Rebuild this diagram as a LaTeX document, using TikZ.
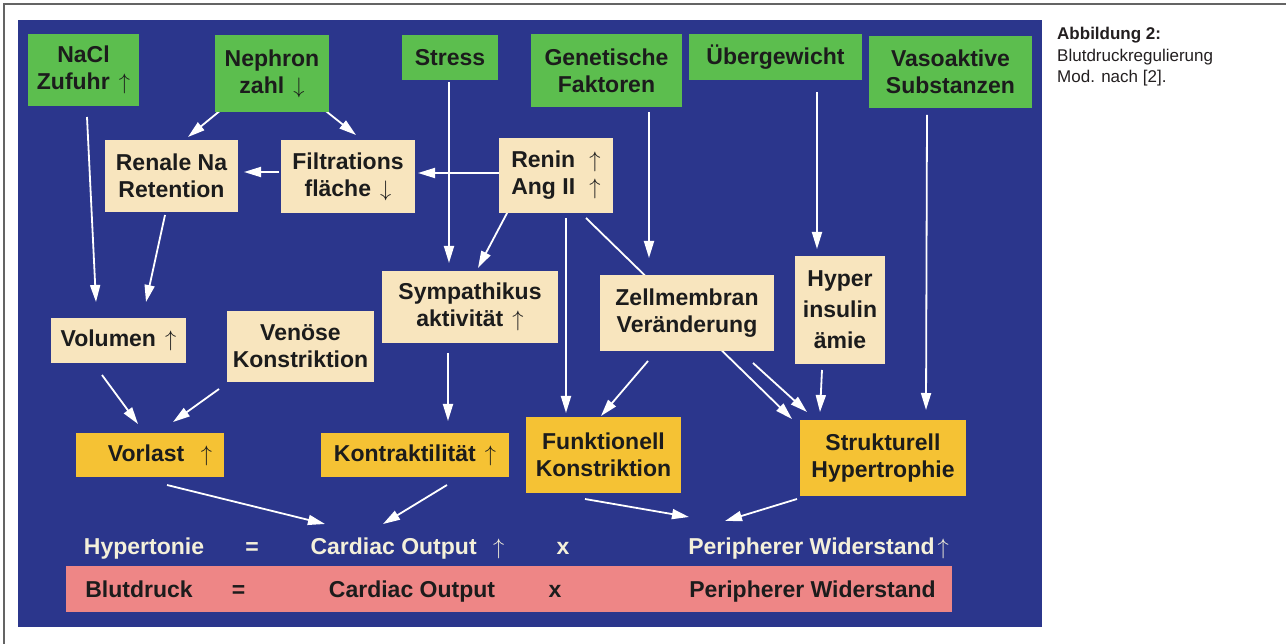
\documentclass[tikz,border=0pt]{standalone}
\usepackage{fontspec}
\setmainfont{Liberation Sans}
\usetikzlibrary{arrows.meta}
\pgfdeclarelayer{bgl}
\pgfdeclarelayer{arrl}
\pgfsetlayers{bgl,arrl,main}
\definecolor{bgblue}{RGB}{43,54,140}
\definecolor{boxgreen}{RGB}{92,190,78}
\definecolor{boxbeige}{RGB}{248,229,190}
\definecolor{boxgold}{RGB}{245,194,52}
\definecolor{barpink}{RGB}{238,134,134}
\definecolor{txt}{RGB}{28,28,28}
\definecolor{cream}{RGB}{244,240,218}
\definecolor{framegray}{RGB}{100,100,100}
\definecolor{captxt}{RGB}{35,31,32}
\newcommand{\UpA}{\hspace{0.12em}\scalebox{0.9}{\ensuremath{\uparrow}}}
\newcommand{\DnA}{\hspace{0.12em}\scalebox{0.9}{\ensuremath{\downarrow}}}
\tikzset{
  box/.style={inner sep=0pt, align=center, text=txt,
    font=\bfseries\fontsize{23}{27}\selectfont},
  gbox/.style={box, fill=boxgreen},
  bbox/.style={box, fill=boxbeige},
  obox/.style={box, fill=boxgold},
  rowtxt/.style={inner sep=0pt, text height=16.5pt, text depth=0pt,
    font=\bfseries\fontsize{23}{27}\selectfont},
  arr/.style={draw=white, line width=1.8pt, -{Triangle[width=10pt,length=17pt]}}
}
\begin{document}
\begin{tikzpicture}[x=1pt,y=-1pt]
\useasboundingbox (0,0) rectangle (1286,644);
\begin{pgfonlayer}{bgl}
\fill[white] (0,0) rectangle (1286,644);
\fill[bgblue] (18,20) rectangle (1042,627);
\draw[framegray, line width=1.5pt] (1286,4) -- (4,4) -- (4,644);
\end{pgfonlayer}

% top row (green)
\node[gbox, minimum width=111pt, minimum height=72pt] (nacl) at (83.5,70) {NaCl\\Zufuhr \UpA};
\node[gbox, minimum width=114pt, minimum height=77pt] (nephron) at (272,73.5) {Nephron\\zahl \DnA};
\node[gbox, minimum width=96pt, minimum height=45pt] (stress) at (450,57.5) {Stress};
\node[gbox, minimum width=151pt, minimum height=73pt] (genetik) at (606.5,70.5) {Genetische\\Faktoren};
\node[gbox, minimum width=173pt, minimum height=46pt] (ueber) at (775.5,57) {Übergewicht};
\node[gbox, minimum width=163pt, minimum height=72pt] (vaso) at (950.5,72) {Vasoaktive\\Substanzen};

% beige
\node[bbox, minimum width=133pt, minimum height=72pt] (renale) at (171.5,176) {Renale Na\\Retention};
\node[bbox, minimum width=134pt, minimum height=73pt] (filtr) at (348,176.5) {Filtrations\\fläche \DnA};
\node[bbox, minimum width=114pt, minimum height=75pt] (renin) at (556,175.5) {Renin\hspace{0.5em}\UpA\\Ang II\hspace{0.5em}\UpA};
\node[bbox, minimum width=176pt, minimum height=72pt] (symp) at (470,307) {Sympathikus\\aktivität \UpA};
\node[bbox, minimum width=174pt, minimum height=76pt] (zell) at (687,313) {Zellmembran\\Veränderung};
\node[bbox, minimum width=90pt, minimum height=108pt] (hyper) at (840,310) {Hyper\\[4pt]insulin\\[4pt]ämie};
\node[bbox, minimum width=135pt, minimum height=45pt] (volumen) at (118.5,340.5) {Volumen \UpA};
\node[bbox, minimum width=147pt, minimum height=71pt] (venoese) at (300.5,346.5) {Venöse\\Konstriktion};

% gold
\node[obox, minimum width=148pt, minimum height=44pt] (vorlast) at (150,455) {\hspace*{20pt}Vorlast\hspace{0.6em}\UpA};
\node[obox, minimum width=188pt, minimum height=44pt] (kontr) at (415,455) {Kontraktilität \UpA};
\node[obox, minimum width=155pt, minimum height=76pt] (funkt) at (603.5,455) {Funktionell\\Konstriktion};
\node[obox, minimum width=166pt, minimum height=76pt] (strukt) at (883,458) {Strukturell\\Hypertrophie};

% equation rows
\node[rowtxt, text=cream] (hyp) at (144,546) {Hypertonie};
\node[rowtxt, text=cream] (eqa) at (252,546) {=};
\node[rowtxt, text=cream] (co) at (407.5,546) {Cardiac Output\hspace{0.6em}\UpA};
\node[rowtxt, text=cream] (xa) at (563,546) {x};
\node[rowtxt, text=cream] (pw) at (818.5,546) {Peripherer Widerstand\UpA};

\node[fill=barpink, inner sep=0pt, minimum width=886pt, minimum height=46pt] (bar) at (509,589) {};
\node[rowtxt, text=txt] (blut) at (139,589) {Blutdruck};
\node[rowtxt, text=txt] (eqb) at (238.5,589) {=};
\node[rowtxt, text=txt] (cob) at (412,589) {Cardiac Output};
\node[rowtxt, text=txt] (xb) at (555,589) {x};
\node[rowtxt, text=txt] (pwb) at (812.5,589) {Peripherer Widerstand};

% caption
\node[anchor=north west, align=left, inner sep=0pt, text=captxt,
  font=\fontsize{17}{21.5}\selectfont] (cap) at (1057,27)
  {\textbf{Abbildung 2:}\\Blutdruckregulierung\\Mod. nach [2].};

% connectors
\begin{pgfonlayer}{arrl}
\draw[arr] ([shift={(3.5,47)}]nacl.center) -- ([shift={(-22.5,-38.5)}]volumen.center);
\draw[arr] ([shift={(-6.5,39)}]renale.center) -- ([shift={(27.5,-38.5)}]volumen.center);
\draw[arr] ([shift={(-45,31.5)}]nephron.center) -- ([shift={(16.5,-39)}]renale.center);
\draw[arr] ([shift={(45,30.5)}]nephron.center) -- ([shift={(8,-41.5)}]filtr.center);
\draw[arr] ([shift={(-69,-4.5)}]filtr.center) -- ([shift={(72.5,-4)}]renale.center);
\draw[arr] ([shift={(-57,-2.5)}]renin.center) -- ([shift={(70,-3.5)}]filtr.center);
\draw[arr] ([shift={(-1,24.5)}]stress.center) -- ([shift={(-21,-44)}]symp.center);
\draw[arr] ([shift={(-41,22.5)}]renin.center) -- ([shift={(8,-39)}]symp.center);
\draw[arr] ([shift={(10,42.5)}]renin.center) -- ([shift={(-37.5,-42)}]funkt.center);
\draw[arr] ([shift={(30,42.5)}]renin.center) -- ([shift={(-91,-39)}]strukt.center);
\draw[arr] ([shift={(42.5,41.5)}]genetik.center) -- ([shift={(-38,-55)}]zell.center);
\draw[arr] ([shift={(-39,48)}]zell.center) -- ([shift={(-2.5,-39)}]funkt.center);
\draw[arr] ([shift={(66,50)}]zell.center) -- ([shift={(-76,-46)}]strukt.center);
\draw[arr] ([shift={(41.5,35)}]ueber.center) -- ([shift={(-23,-61)}]hyper.center);
\draw[arr] ([shift={(-23.5,43)}]vaso.center) -- ([shift={(43,-48)}]strukt.center);
\draw[arr] ([shift={(-18,60)}]hyper.center) -- ([shift={(-63,-46)}]strukt.center);
\draw[arr] ([shift={(-22,46)}]symp.center) -- ([shift={(33,-34)}]kontr.center);
\draw[arr] ([shift={(-16.5,34.5)}]volumen.center) -- ([shift={(-12,-31)}]vorlast.center);
\draw[arr] ([shift={(-81.5,42.5)}]venoese.center) -- ([shift={(23,-33)}]vorlast.center);
\draw[arr] ([shift={(17,30)}]vorlast.center) -- ([shift={(-82.5,-22)}]co.center);
\draw[arr] ([shift={(32,30)}]kontr.center) -- ([shift={(-24.5,-22)}]co.center);
\draw[arr] ([shift={(-18.5,44)}]funkt.center) -- ([shift={(-129.5,-29)}]pw.center);
\draw[arr] ([shift={(-86,41)}]strukt.center) -- ([shift={(-93.5,-25)}]pw.center);
\end{pgfonlayer}
\end{tikzpicture}
\end{document}
